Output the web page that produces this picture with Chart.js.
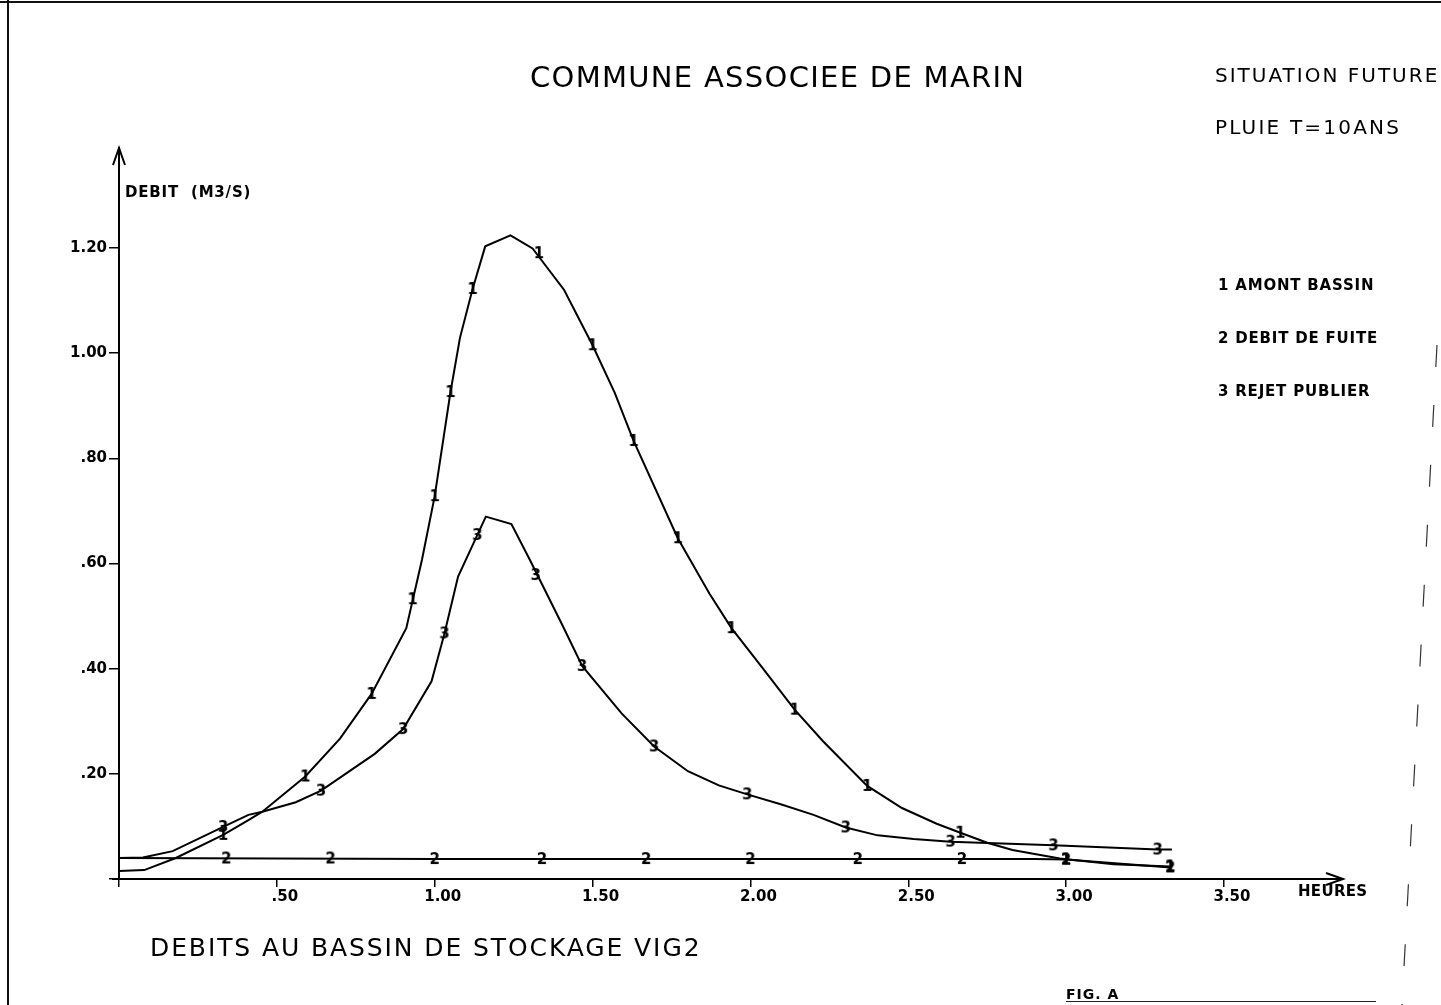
<!DOCTYPE html>
<html>
<head>
<meta charset="utf-8">
<script src="https://cdn.jsdelivr.net/npm/chart.js@4.4.0/dist/chart.umd.min.js"></script>
<style>
  html, body { margin: 0; padding: 0; background: #fff; }
  body { width: 1441px; height: 1005px; position: relative; overflow: hidden; font-family: "DejaVu Sans", sans-serif; color: #000; }
  #plot { position: absolute; left: 0; top: 0; }
  .txt { position: absolute; line-height: 1; white-space: nowrap; }
  .bold { font-weight: bold; }
  #frame-top { position: absolute; left: 0; top: 1px; width: 1441px; height: 2px; background: #111; }
  #frame-left { position: absolute; left: 7px; top: 0; width: 2px; height: 1005px; background: #111; }
  #fig-line { position: absolute; left: 1066px; top: 1001px; width: 310px; height: 1px; background: #222; }
  #edge { position: absolute; left: 0; top: 0; }
</style>
</head>
<body>
<div id="frame-top"></div>
<div id="frame-left"></div>
<svg id="edge" width="1441" height="1005">
  <line x1="1437" y1="345" x2="1402" y2="1005" stroke="#333" stroke-width="1.2" stroke-dasharray="22 38"/>
</svg>
<canvas id="plot" width="1441" height="1005"></canvas>

<div class="txt" style="left:530px; top:63px; font-size:29px; letter-spacing:1.3px;">COMMUNE ASSOCIEE DE MARIN</div>
<div class="txt" style="left:1215px; top:65px; font-size:20px; letter-spacing:2px;">SITUATION FUTURE</div>
<div class="txt" style="left:1215px; top:117px; font-size:20px; letter-spacing:2.2px;">PLUIE T=10ANS</div>
<div class="txt bold" style="left:125px; top:185px; font-size:15px; letter-spacing:0.8px;">DEBIT&nbsp;&nbsp;(M3/S)</div>
<div class="txt bold" style="left:1218px; top:278px; font-size:15px; letter-spacing:0.8px;">1 AMONT BASSIN</div>
<div class="txt bold" style="left:1218px; top:331px; font-size:15px; letter-spacing:0.8px;">2 DEBIT DE FUITE</div>
<div class="txt bold" style="left:1218px; top:384px; font-size:15px; letter-spacing:0.8px;">3 REJET PUBLIER</div>
<div class="txt bold" style="left:1298px; top:884px; font-size:15px; letter-spacing:0.3px;">HEURES</div>
<div class="txt" style="left:150px; top:935px; font-size:25px; letter-spacing:1.9px;">DEBITS AU BASSIN DE STOCKAGE VIG2</div>
<div class="txt bold" style="left:1066px; top:987px; font-size:14px; letter-spacing:1px;">FIG. A</div>
<div id="fig-line"></div>

<script>
// courbe 1 : amont bassin (heures / m3/s)
const amontT = [0, 0.08, 0.18, 0.33, 0.41, 0.454, 0.59, 0.70, 0.80, 0.91, 0.96, 1.00, 1.05, 1.08, 1.12, 1.16, 1.24, 1.31, 1.41, 1.50, 1.57, 1.63, 1.77, 1.87, 1.94, 2.04, 2.14, 2.23, 2.37, 2.48, 2.59, 2.665, 2.75, 2.83, 2.98, 3.15, 3.33];
const amontQ = [0.015, 0.017, 0.040, 0.084, 0.112, 0.128, 0.195, 0.267, 0.352, 0.477, 0.608, 0.728, 0.926, 1.029, 1.122, 1.203, 1.224, 1.199, 1.120, 1.015, 0.925, 0.833, 0.648, 0.543, 0.477, 0.400, 0.322, 0.262, 0.177, 0.135, 0.105, 0.088, 0.069, 0.055, 0.039, 0.028, 0.024];
const amontMarkT = [0.33, 0.59, 0.80, 0.93, 1.00, 1.05, 1.12, 1.33, 1.50, 1.63, 1.77, 1.94, 2.14, 2.37, 2.665, 3.00, 3.33];
const amontMarkQ = [0.084, 0.195, 0.352, 0.532, 0.728, 0.926, 1.122, 1.19, 1.015, 0.833, 0.648, 0.477, 0.322, 0.177, 0.088, 0.037, 0.024];

// courbe 2 : debit de fuite
const fuiteT = [0, 0.5, 1.0, 1.5, 2.0, 2.5, 2.9, 3.0, 3.33];
const fuiteQ = [0.040, 0.039, 0.038, 0.038, 0.038, 0.038, 0.038, 0.037, 0.022];
const fuiteMarkT = [0.34, 0.67, 1.00, 1.34, 1.67, 2.00, 2.34, 2.67, 3.00, 3.33];
const fuiteMarkQ = [0.039, 0.039, 0.038, 0.038, 0.038, 0.038, 0.038, 0.038, 0.037, 0.022];

// courbe 3 : rejet publier
const rejetT = [0, 0.076, 0.17, 0.33, 0.41, 0.454, 0.56, 0.64, 0.81, 0.90, 0.99, 1.031, 1.074, 1.162, 1.243, 1.302, 1.405, 1.467, 1.592, 1.695, 1.802, 1.90, 1.99, 2.096, 2.20, 2.302, 2.403, 2.517, 2.634, 2.96, 3.29, 3.335];
const rejetQ = [0.040, 0.041, 0.053, 0.099, 0.122, 0.128, 0.146, 0.168, 0.238, 0.285, 0.376, 0.467, 0.575, 0.689, 0.675, 0.606, 0.482, 0.405, 0.315, 0.252, 0.205, 0.178, 0.161, 0.142, 0.122, 0.098, 0.083, 0.076, 0.071, 0.064, 0.056, 0.056];
const rejetMarkT = [0.33, 0.64, 0.90, 1.031, 1.135, 1.32, 1.467, 1.695, 1.99, 2.302, 2.634, 2.96, 3.29];
const rejetMarkQ = [0.099, 0.168, 0.285, 0.467, 0.654, 0.578, 0.405, 0.252, 0.161, 0.098, 0.071, 0.064, 0.056];

const xTicks = [0, 0.5, 1.0, 1.5, 2.0, 2.5, 3.0, 3.5];
const yTicks = [0, 0.2, 0.4, 0.6, 0.8, 1.0, 1.2];

function pts(xs, ys) {
  return xs.map((x, i) => ({ x: x, y: ys[i] }));
}

// petit symbole chiffre pour les marqueurs du traceur
function glyph(ch) {
  const c = document.createElement('canvas');
  c.width = 16;
  c.height = 18;
  const g = c.getContext('2d');
  g.font = 'bold 15px "DejaVu Sans"';
  g.textAlign = 'center';
  g.textBaseline = 'middle';
  g.fillStyle = '#000';
  g.fillText(ch, 8, 10);
  return c;
}

function fmt(v) {
  if (Math.abs(v) < 1e-9) return '';
  return v.toFixed(2).replace(/^0/, '');
}

const lineStyle = { borderColor: '#000', borderWidth: 2, pointRadius: 0, tension: 0, fill: false };
const markStyle = { showLine: false, pointRadius: 8, pointHoverRadius: 8 };

const arrows = {
  id: 'arrows',
  afterDraw(chart) {
    const { ctx, chartArea: a } = chart;
    ctx.save();
    ctx.strokeStyle = '#000';
    ctx.lineWidth = 2;
    ctx.beginPath();
    ctx.moveTo(a.left - 7, a.bottom);
    ctx.lineTo(a.left, a.bottom);
    ctx.moveTo(a.right - 17, a.bottom - 6);
    ctx.lineTo(a.right, a.bottom);
    ctx.lineTo(a.right - 17, a.bottom + 6);
    ctx.moveTo(a.left - 6, a.top + 17);
    ctx.lineTo(a.left, a.top);
    ctx.lineTo(a.left + 6, a.top + 17);
    ctx.stroke();
    ctx.restore();
  }
};

const tickFont = { family: '"DejaVu Sans"', size: 15, weight: 'bold' };

new Chart(document.getElementById('plot'), {
  type: 'line',
  data: {
    datasets: [
      Object.assign({ label: 'AMONT BASSIN', data: pts(amontT, amontQ) }, lineStyle),
      Object.assign({ label: 'DEBIT DE FUITE', data: pts(fuiteT, fuiteQ) }, lineStyle),
      Object.assign({ label: 'REJET PUBLIER', data: pts(rejetT, rejetQ) }, lineStyle),
      Object.assign({ label: '1', data: pts(amontMarkT, amontMarkQ), pointStyle: glyph('1') }, markStyle),
      Object.assign({ label: '2', data: pts(fuiteMarkT, fuiteMarkQ), pointStyle: glyph('2') }, markStyle),
      Object.assign({ label: '3', data: pts(rejetMarkT, rejetMarkQ), pointStyle: glyph('3') }, markStyle)
    ]
  },
  options: {
    responsive: false,
    animation: false,
    events: [],
    layout: { padding: { left: 59, top: 148, right: 98, bottom: 86 } },
    plugins: {
      legend: { display: false },
      tooltip: { enabled: false }
    },
    scales: {
      x: {
        type: 'linear',
        min: 0,
        max: 3.877,
        afterFit: s => { s.height = 40; },
        afterBuildTicks: s => { s.ticks = xTicks.map(v => ({ value: v })); },
        border: { color: '#000', width: 2 },
        grid: { drawOnChartArea: false, color: '#000', lineWidth: 1.5, tickLength: 8 },
        ticks: { color: '#000', font: tickFont, padding: 1, labelOffset: 8, callback: fmt }
      },
      y: {
        type: 'linear',
        min: 0,
        max: 1.39,
        afterFit: s => { s.width = 60; },
        afterBuildTicks: s => { s.ticks = yTicks.map(v => ({ value: v })); },
        border: { color: '#000', width: 2 },
        grid: { drawOnChartArea: false, color: '#000', lineWidth: 1.5, tickLength: 10 },
        ticks: { color: '#000', font: tickFont, padding: 2, callback: fmt }
      }
    }
  },
  plugins: [arrows]
});
</script>
</body>
</html>
